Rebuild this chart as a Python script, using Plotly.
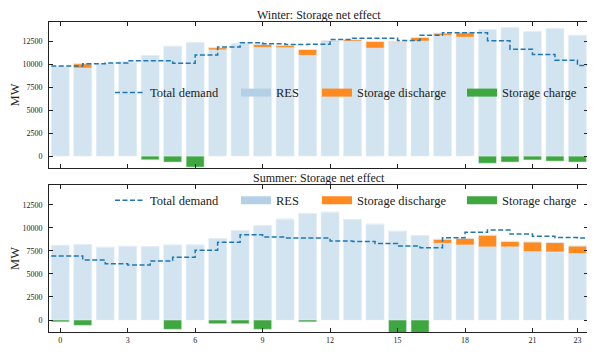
import plotly.graph_objects as go

hours = list(range(24))
xticks = [0, 3, 6, 9, 12, 15, 18, 21, 23]
yticks = [0, 2500, 5000, 7500, 10000, 12500]
ytick_labels = ['0', '2500', '5000', '7500', '10000', '12500']

winter_res = [9780, 9620, 10100, 10300, 11000, 12000, 12400, 11600, 12300, 11880, 11850, 11000,
              12500, 12530, 11800, 12430, 12570, 13190, 13000, 13800, 14020, 13620, 13910, 13190]
winter_discharge = [0, 480, 0, 0, 0, 0, 0, 250, 0, 330, 250, 650,
                    100, 190, 730, 100, 400, 250, 480, 0, 0, 0, 0, 0]
winter_charge = [0, 0, 0, 0, -400, -650, -1200, 0, 0, 0, 0, 0,
                 0, 0, 0, 0, 0, 0, 0, -780, -650, -420, -550, -650]
winter_demand = [9840, 10100, 10170, 10430, 10430, 10140, 11040, 11910, 12390, 12280, 12190, 12230,
                 12750, 12880, 12880, 12640, 13200, 13480, 13480, 12590, 11680, 11110, 10480, 9890]

summer_res = [8100, 8200, 7900, 8000, 7950, 8150, 8150, 8850, 9730, 10240, 10950, 11560,
              11700, 10900, 10400, 9640, 9170, 8330, 8150, 7940, 7940, 7430, 7390, 7220]
summer_discharge = [0, 0, 0, 0, 0, 0, 0, 0, 0, 0, 0, 0,
                    0, 0, 0, 0, 0, 440, 730, 1270, 600, 1050, 1020, 820]
summer_charge = [-200, -580, 0, 0, 0, -1010, 0, -400, -400, -1010, 0, -200,
                 0, 0, 0, -1500, -1500, 0, 0, 0, 0, 0, 0, 0]
summer_demand = [6960, 6520, 6110, 5960, 6410, 6810, 7580, 8440, 9260, 9000, 8910, 8910,
                 8570, 8520, 8320, 8040, 7840, 8930, 9530, 9780, 9330, 9100, 8960, 8900]

BLUE = '#1f77b4'
RES_C = '#d2e4f0'
RES_LEG = '#b4d0e6'
ORANGE = '#ff8a1f'
GREEN = '#3fa73f'
FONT = 'Liberation Serif'

fig = go.Figure()

panels = [
    ('Winter: Storage net effect', winter_res, winter_discharge, winter_charge, winter_demand, '', 0.771, 1),
    ('Summer: Storage net effect', summer_res, summer_discharge, summer_charge, summer_demand, '2', 0.4235, 5),
]

# one legend per item so the spacing can follow the original
leg_x = [0.1132, 0.3469, 0.4972, 0.7662]

for title, res, dis, chg, dem, ax, ly, lnum in panels:
    xa, ya = 'x' + ax, 'y' + ax
    fig.add_trace(go.Bar(x=hours, y=res, marker_color=RES_C, showlegend=False, xaxis=xa, yaxis=ya))
    fig.add_trace(go.Bar(x=hours, y=dis, marker_color=ORANGE, showlegend=False, xaxis=xa, yaxis=ya))
    fig.add_trace(go.Bar(x=hours, y=chg, marker_color=GREEN, showlegend=False, xaxis=xa, yaxis=ya))
    # demand as a step line (value of hour h held until h+1)
    step_x = [hours[0] - 0.4] + hours[1:] + [hours[-1] + 0.5]
    step_y = dem + [dem[-1]]
    fig.add_trace(go.Scatter(x=step_x, y=step_y, mode='lines', line_shape='hv',
                             line=dict(color=BLUE, width=1.5, dash='5px,2.5px'),
                             showlegend=False, xaxis=xa, yaxis=ya))

    entries = [('Total demand', BLUE, 1.5, '5px,2.5px'), ('RES', RES_LEG, 8, 'solid'),
               ('Storage discharge', ORANGE, 8, 'solid'), ('Storage charge', GREEN, 8, 'solid')]
    for i, (name, col, w, dash) in enumerate(entries):
        lname = 'legend' if lnum + i == 1 else f'legend{lnum + i}'
        fig.add_trace(go.Scatter(x=[None], y=[None], mode='lines', name=name,
                                 line=dict(color=col, width=w, dash=dash),
                                 legend=lname, xaxis=xa, yaxis=ya))
        fig.update_layout({lname: dict(x=leg_x[i], y=ly, xanchor='left', yanchor='middle',
                                       bgcolor='rgba(0,0,0,0)', font=dict(family=FONT, size=12.5, color='#222'),
                                       itemwidth=30)})

    fig.add_annotation(text=title, x=0.5, y=1, xref=f'x{ax} domain', yref=f'y{ax} domain',
                       xanchor='center', yanchor='bottom', yshift=-1, showarrow=False, borderpad=0,
                       font=dict(family=FONT, size=12, color='#222'))

axis_common = dict(showline=True, linecolor='#222', linewidth=1, mirror='ticks', ticks='inside',
                   ticklen=4, tickcolor='#222', showgrid=False, zeroline=False, automargin=False,
                   tickfont=dict(family=FONT, size=8, color='#222'))
mw_title = dict(text='MW', font=dict(family=FONT, size=12.5, color='#222'), standoff=6)

# page body has an 8px margin, so the figure is a bit smaller than the window
fig.update_layout(
    width=587, height=344,
    margin=dict(l=41, r=7, t=14, b=20, autoexpand=False),
    plot_bgcolor='white', paper_bgcolor='white',
    barmode='relative', bargap=0.2,
    xaxis=dict(axis_common, domain=[0, 1], anchor='y', range=[-0.5, 23.47], tickvals=xticks,
               showticklabels=False, matches='x2'),
    yaxis=dict(axis_common, domain=[0.529, 1], anchor='x', range=[-1300, 14650],
               tickvals=yticks, ticktext=ytick_labels, title=mw_title, ticklabelstandoff=4),
    xaxis2=dict(axis_common, domain=[0, 1], anchor='y2', range=[-0.5, 23.47], tickvals=xticks),
    yaxis2=dict(axis_common, domain=[0, 0.474], anchor='x2', range=[-1300, 14650],
                tickvals=yticks, ticktext=ytick_labels, title=mw_title, ticklabelstandoff=4),
)

fig.write_html("out.html")
